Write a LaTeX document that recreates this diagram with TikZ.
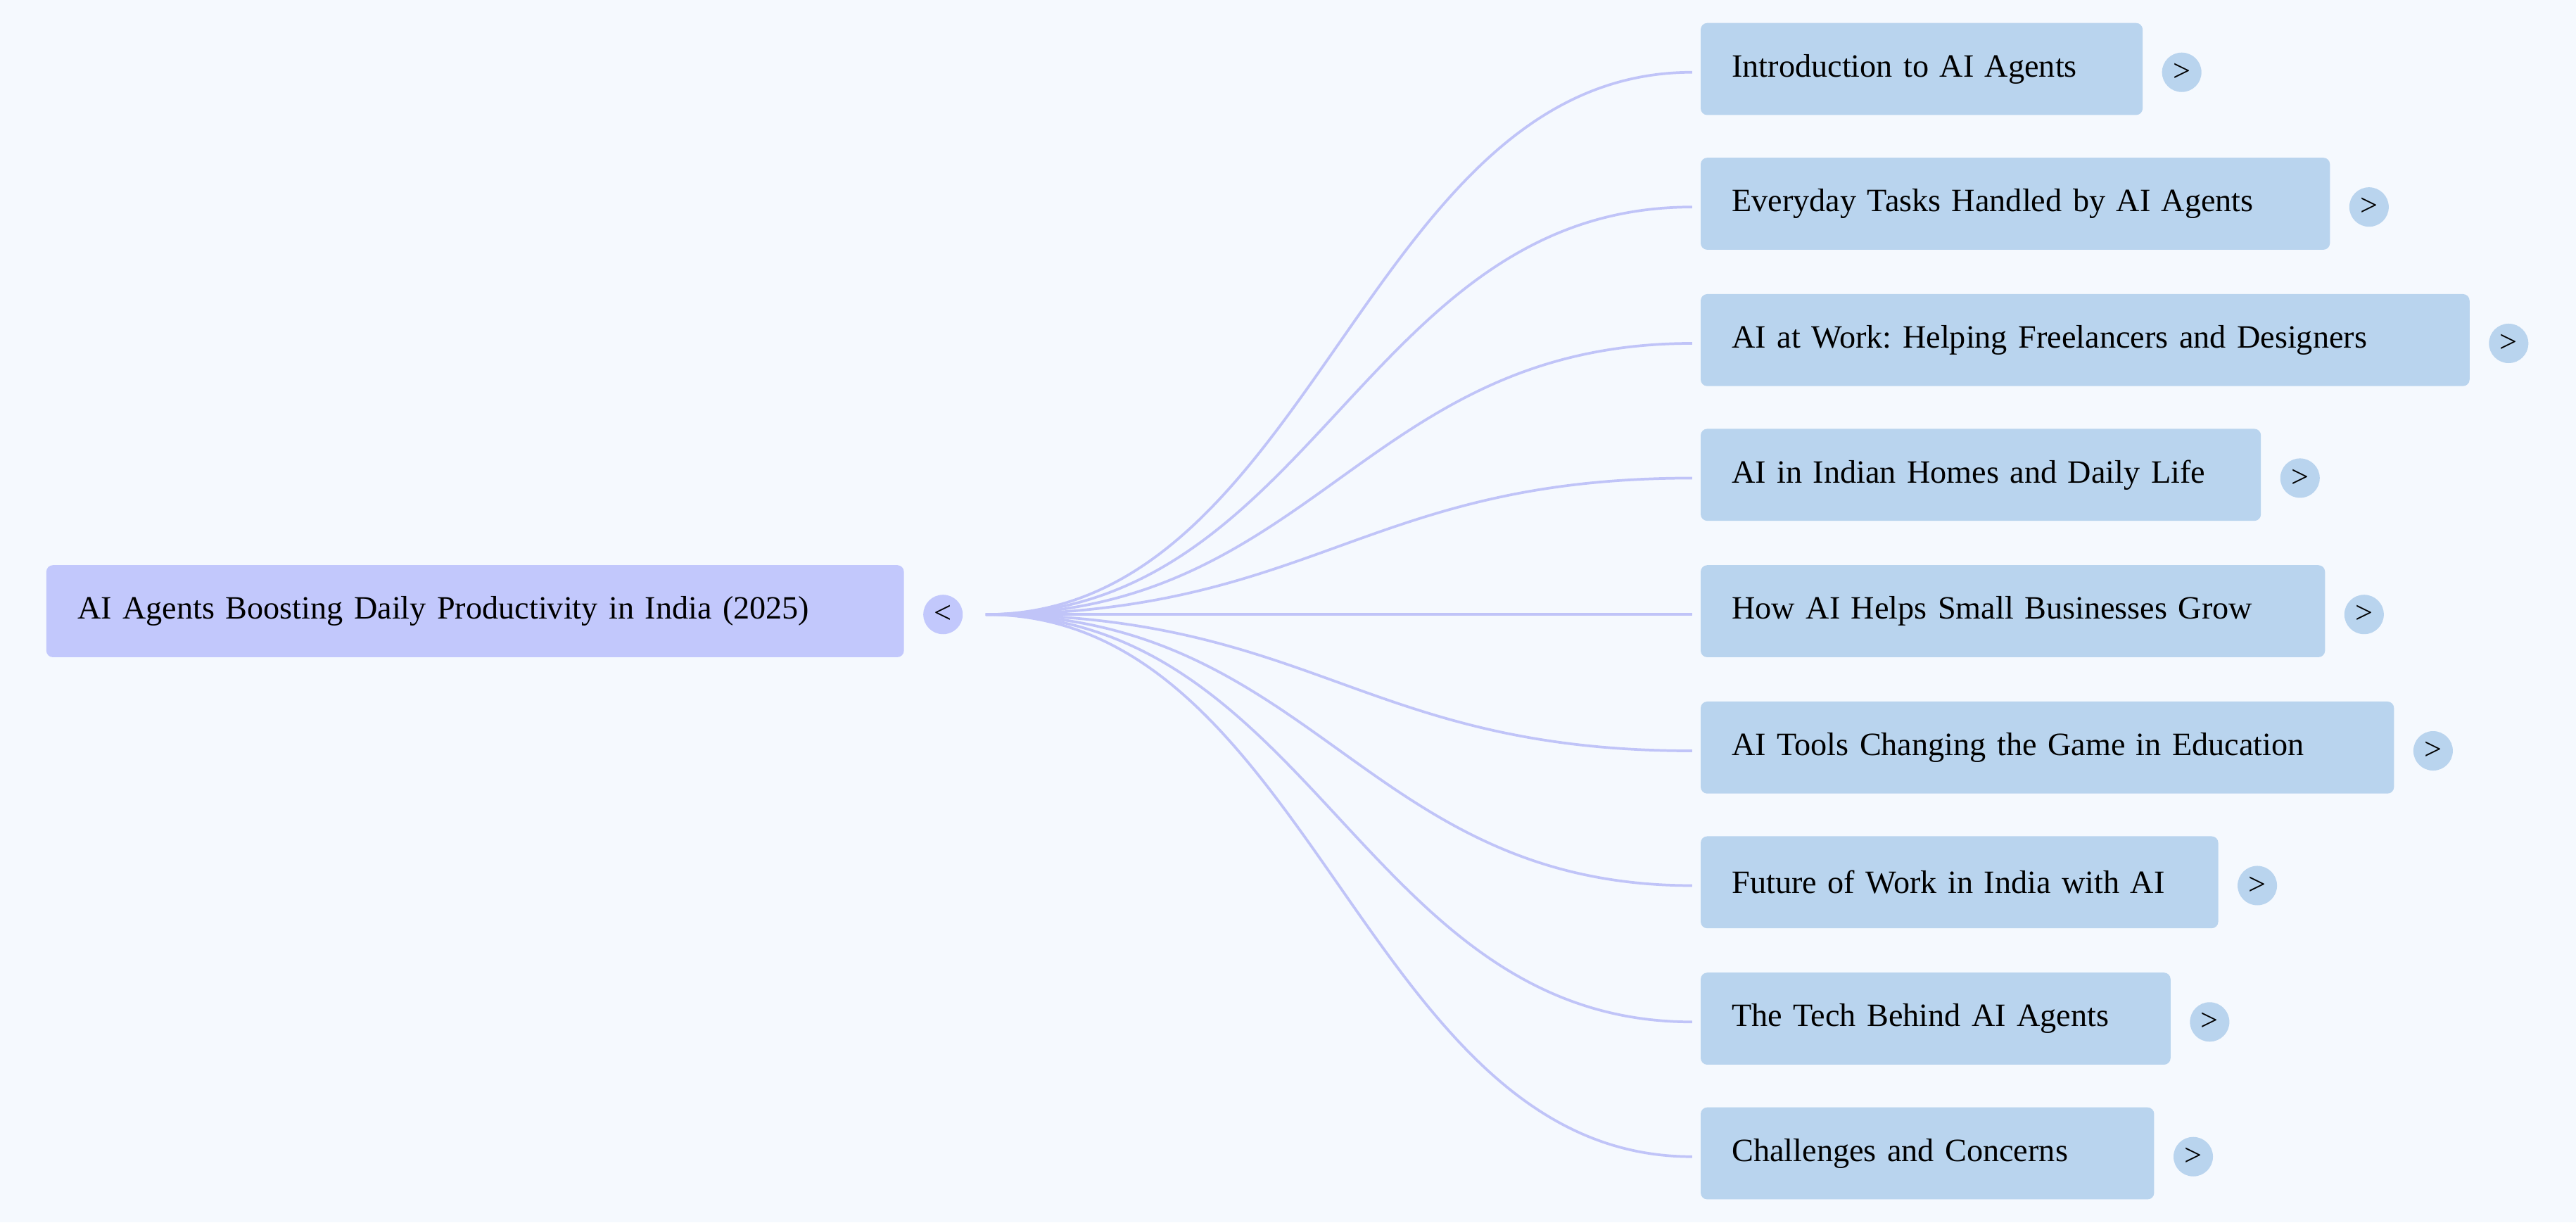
\documentclass[tikz,border=0pt]{standalone}
\usepackage{fontspec}
\setmainfont{Liberation Serif}
\frenchspacing
\definecolor{bg}{HTML}{F5F9FE}
\definecolor{rootc}{HTML}{C2C8FC}
\definecolor{kidc}{HTML}{B9D4EE}
\definecolor{linec}{HTML}{C0C4F8}
\tikzset{
 rootbox/.style={fill=rootc,rounded corners=4pt,minimum height=56pt,minimum width=522pt,anchor=west,text width=484pt,inner xsep=19pt,align=left,font=\fontsize{19.8}{22}\selectfont},
 kidbox/.style={fill=kidc,rounded corners=4pt,minimum height=56pt,anchor=west,align=left,inner xsep=19pt,font=\fontsize{19.8}{22}\selectfont},
 tog/.style={circle,fill=#1,minimum size=24pt,inner sep=0pt,font=\fontsize{19}{20}\selectfont},
 conn/.style={linec,line width=1.6pt}
}
\begin{document}
\begin{tikzpicture}[x=1pt,y=-1pt]
\fill[bg] (0,0) rectangle (1568,744);
\useasboundingbox (0,0) rectangle (1568,744);
\node[rootbox] (root) at (28,372) {AI Agents Boosting Daily Productivity in India (2025)};
\node[tog=rootc] (rt) at (574,374) {<};
\coordinate (hub) at (600,374);
\foreach \i/\y/\r/\t in {
 1/42/1304/Introduction to AI Agents,
 2/124/1418/Everyday Tasks Handled by AI Agents,
 3/207/1503/AI at Work: Helping Freelancers and Designers,
 4/289/1376/AI in Indian Homes and Daily Life,
 5/372/1415/How AI Helps Small Businesses Grow,
 6/455/1457/AI Tools Changing the Game in Education,
 7/537/1350/Future of Work in India with AI,
 8/620/1321/The Tech Behind AI Agents,
 9/702/1311/Challenges and Concerns}{
 \pgfmathsetmacro{\w}{\r-1035}
 \node[kidbox,minimum width=\w pt,text width=\w pt-38pt] (k\i) at (1035,\y) {\t};
 \node[tog=kidc] (c\i) at (\r+24,\y+2) {>};
 \coordinate (e\i) at (1030,\y+2);
 \draw[conn] (hub) .. controls (800,374) and (830,\y+2) .. (e\i);
}
\end{tikzpicture}
\end{document}
